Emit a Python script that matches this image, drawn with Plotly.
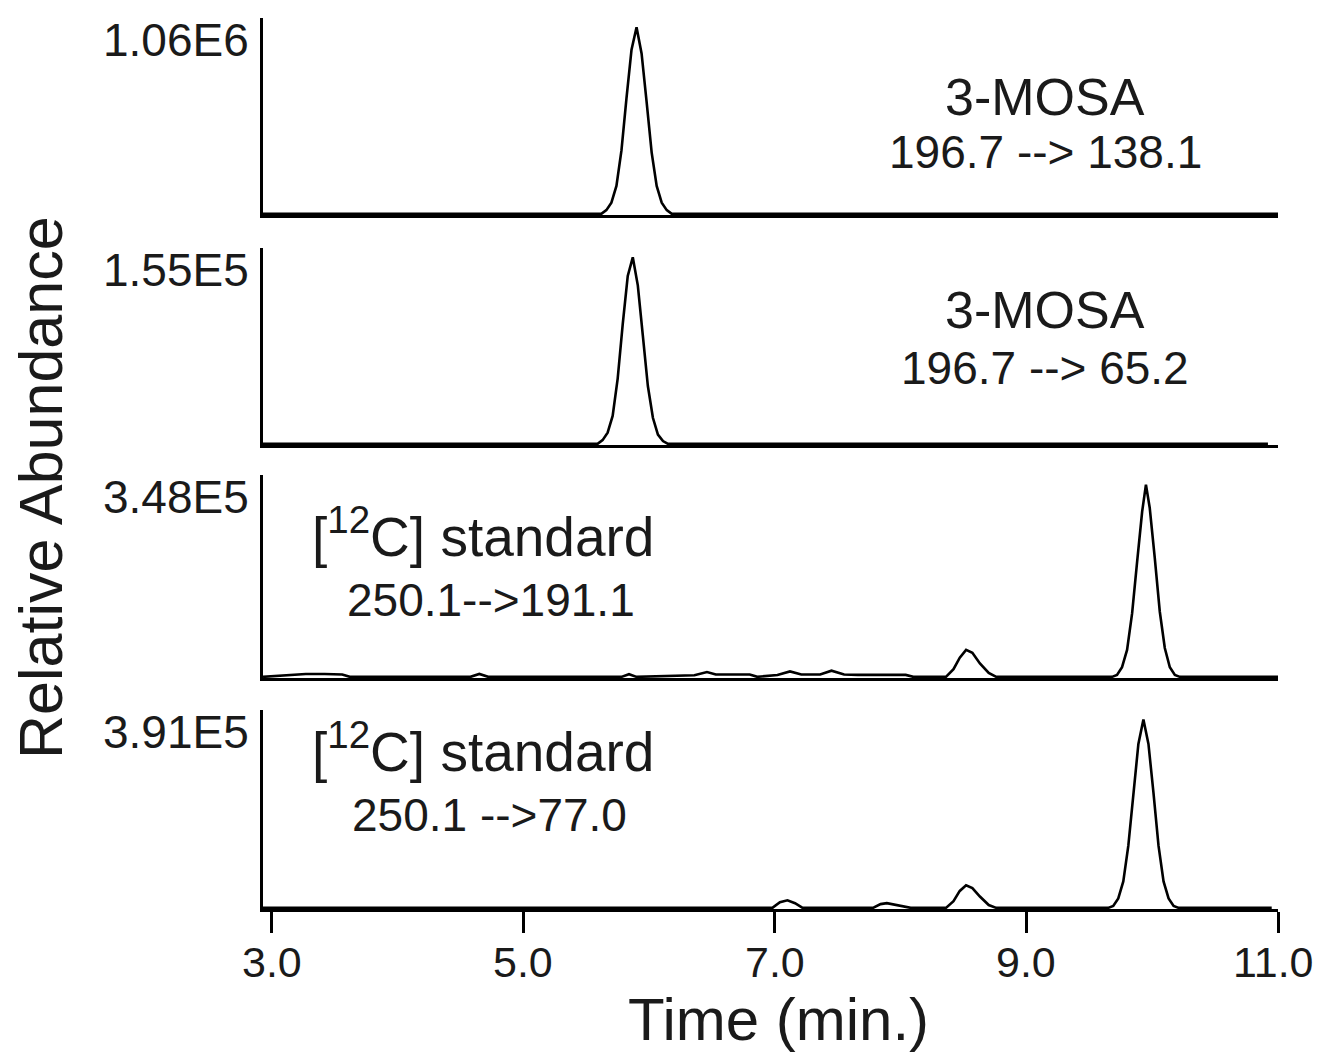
import plotly.graph_objects as go

# ---------------- data (relative abundance) ----------------
p1_time = [2.93, 5.62, 5.66, 5.70, 5.74, 5.78, 5.82, 5.86, 5.90, 5.94, 5.98, 6.02, 6.06, 6.10, 6.14, 6.18, 11.0]
p1_int = [0, 0, 0.02, 0.06, 0.15, 0.34, 0.62, 0.88, 1.0, 0.86, 0.60, 0.33, 0.15, 0.06, 0.02, 0, 0]

p2_time = [2.93, 5.59, 5.63, 5.67, 5.71, 5.75, 5.79, 5.83, 5.87, 5.91, 5.95, 5.99, 6.03, 6.07, 6.11, 6.15, 10.92]
p2_int = [0, 0, 0.02, 0.06, 0.15, 0.35, 0.64, 0.90, 1.0, 0.85, 0.58, 0.31, 0.14, 0.05, 0.015, 0, 0]

p3_time = [2.93, 3.22, 3.27, 3.42, 3.56, 3.62, 4.58, 4.65, 4.72, 5.78, 5.84, 5.90,
           6.36, 6.46, 6.53, 6.80, 6.86, 7.02, 7.12, 7.21, 7.36, 7.45, 7.55, 7.66,
           7.74, 8.04, 8.10, 8.36, 8.42, 8.47, 8.52, 8.57, 8.63, 8.70, 8.76,
           9.68, 9.72, 9.76, 9.80, 9.84, 9.88, 9.92, 9.95, 9.98, 10.02, 10.06, 10.10, 10.14, 10.18, 10.22, 11.0]
p3_int = [0, 0.012, 0.015, 0.015, 0.012, 0, 0, 0.015, 0, 0, 0.014, 0,
          0.008, 0.025, 0.012, 0.012, 0, 0.01, 0.028, 0.012, 0.012, 0.032, 0.012, 0.01,
          0.01, 0.01, 0, 0, 0.04, 0.10, 0.14, 0.125, 0.07, 0.02, 0,
          0, 0.01, 0.05, 0.14, 0.33, 0.60, 0.86, 1.0, 0.88, 0.62, 0.34, 0.15, 0.05, 0.01, 0, 0]

p4_time = [2.93, 6.98, 7.04, 7.10, 7.16, 7.22, 7.78, 7.84, 7.89, 7.95, 8.02, 8.08,
           8.36, 8.42, 8.47, 8.52, 8.57, 8.63, 8.70, 8.76,
           9.65, 9.69, 9.73, 9.77, 9.81, 9.85, 9.89, 9.93, 9.97, 10.01, 10.05, 10.09, 10.13, 10.17, 10.21, 10.95]
p4_int = [0, 0, 0.03, 0.04, 0.025, 0, 0, 0.02, 0.025, 0.018, 0.01, 0,
          0, 0.035, 0.09, 0.12, 0.105, 0.06, 0.015, 0,
          0, 0.01, 0.05, 0.14, 0.33, 0.61, 0.87, 1.0, 0.87, 0.61, 0.33, 0.14, 0.05, 0.01, 0, 0]

max_labels = ["1.06E6", "1.55E5", "3.48E5", "3.91E5"]
titles = ["3-MOSA", "3-MOSA", "[<sup>12</sup>C] standard", "[<sup>12</sup>C] standard"]
transitions = ["196.7 --> 138.1", "196.7 --> 65.2", "250.1-->191.1", "250.1 -->77.0"]
x_ticks = [3.0, 5.0, 7.0, 9.0, 11.0]
x_tick_text = ["3.0", "5.0", "7.0", "9.0", "11.0"]

# ---------------- layout helpers ----------------
OFF = 8  # default HTML body margin; figure is drawn 8px in from page corner
W, H = 1322 - OFF, 1055 - OFF
L, R, T, B = 263 - OFF, 1278 - OFF, 18 - OFF, 909 - OFF
XR = [2.93, 11.0]
FONT = "Liberation Sans, Arial, Helvetica, sans-serif"
TXT = "#1a1a1a"


def px_x(page_px):
    return (page_px - OFF - L) / (R - L)


def px_y(page_py):
    return (B - (page_py - OFF)) / (B - T)


panel_px = [(18, 215), (248, 445), (475, 678), (710, 909)]  # page px (top, bottom)
domains = [[px_y(b), px_y(t)] for t, b in panel_px]

times = [p1_time, p2_time, p3_time, p4_time]
ints = [p1_int, p2_int, p3_int, p4_int]

fig = go.Figure()
for i in range(4):
    n = "" if i == 0 else str(i + 1)
    fig.add_trace(go.Scatter(x=times[i], y=ints[i], mode="lines",
                             line=dict(color="black", width=2.6),
                             xaxis="x" + n, yaxis="y" + n, showlegend=False,
                             hoverinfo="skip"))

layout = dict(width=W, height=H, margin=dict(l=L, r=W - R, t=T, b=H - B),
              paper_bgcolor="white", plot_bgcolor="white",
              font=dict(family=FONT, color=TXT), showlegend=False)

for i in range(4):
    n = "" if i == 0 else str(i + 1)
    bottom = i == 3
    layout["xaxis" + n] = dict(domain=[0, 1], range=XR, anchor="y" + n,
                               showline=True, linecolor="black", linewidth=3,
                               showgrid=False, zeroline=False,
                               tickmode="array", tickvals=x_ticks,
                               ticks="outside" if bottom else "", ticklen=21, tickwidth=2.5,
                               tickcolor="black", showticklabels=False)
    layout["yaxis" + n] = dict(domain=domains[i], range=[-0.006, 1.05], anchor="x" + n,
                               showline=True, linecolor="black", linewidth=3,
                               showgrid=False, zeroline=False, showticklabels=False,
                               ticks="")
fig.update_layout(**layout)

ann = []
# x tick labels (bottom panel)
for v, s in zip(x_ticks, x_tick_text):
    ann.append(dict(text=s, xref="x4", yref="paper", x=v, y=px_y(962),
                    xanchor="right" if v == x_ticks[-1] else "center",
                    xshift=38 if v == x_ticks[-1] else 0,
                    yanchor="middle", showarrow=False,
                    font=dict(size=43, family=FONT, color=TXT)))

for i, (t, b) in enumerate(panel_px):
    ann.append(dict(text=max_labels[i], xref="paper", yref="paper", x=px_x(251),
                    y=px_y(t + 22), xanchor="right", yanchor="middle", showarrow=False,
                    font=dict(size=46, family=FONT, color=TXT)))

# panel titles
panel_text = [
    dict(text=titles[0], x=px_x(1045), y=px_y(97), xanchor="center", fs=52),
    dict(text=transitions[0], x=px_x(1045), y=px_y(152), xanchor="center", fs=46),
    dict(text=titles[1], x=px_x(1045), y=px_y(310), xanchor="center", fs=52),
    dict(text=transitions[1], x=px_x(1045), y=px_y(368), xanchor="center", fs=46),
    dict(text=titles[2], x=px_x(310), y=px_y(533), xanchor="left", fs=55),
    dict(text=transitions[2], x=px_x(345), y=px_y(600), xanchor="left", fs=46),
    dict(text=titles[3], x=px_x(310), y=px_y(748), xanchor="left", fs=55),
    dict(text=transitions[3], x=px_x(350), y=px_y(815), xanchor="left", fs=46),
]
for a in panel_text:
    fs = a.pop("fs")
    a.update(xref="paper", yref="paper", yanchor="middle", showarrow=False,
             font=dict(size=fs, family=FONT, color=TXT))
    ann.append(a)

# axis titles
ann.append(dict(text="Time (min.)", xref="paper", yref="paper", x=px_x(778), y=px_y(1019),
                xanchor="center", yanchor="middle", showarrow=False,
                font=dict(size=60, family=FONT, color=TXT)))
ann.append(dict(text="Relative Abundance", xref="paper", yref="paper", x=px_x(41), y=px_y(488),
                xanchor="center", yanchor="middle", textangle=-90, showarrow=False,
                font=dict(size=61, family=FONT, color=TXT)))
fig.update_layout(annotations=ann)

fig.write_html("out.html")
